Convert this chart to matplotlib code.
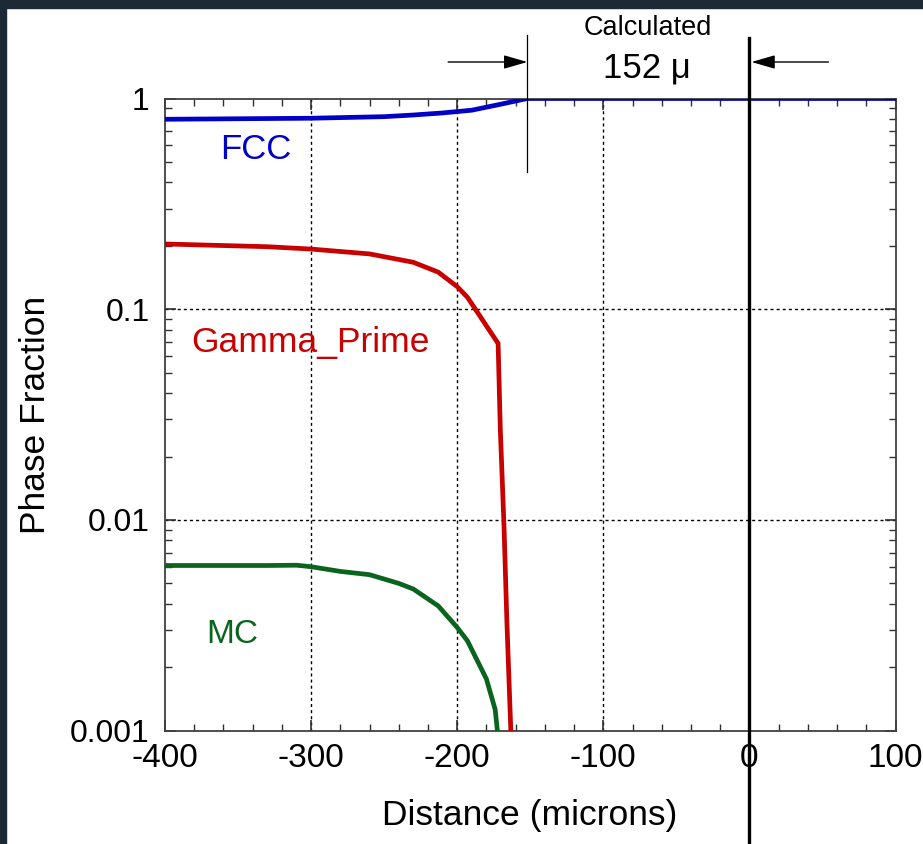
import matplotlib
matplotlib.use("Agg")
import matplotlib.pyplot as plt
from matplotlib.ticker import FixedLocator, LogLocator, NullFormatter, MultipleLocator
import matplotlib.patches as mpatches

plt.rcParams['font.family'] = ['Liberation Sans', 'DejaVu Sans']

# ---- data ----
fcc_x = [-400, -300, -250, -230, -210, -190, -170, -152, 100]
fcc_y = [0.797, 0.806, 0.82, 0.835, 0.854, 0.88, 0.94, 1.0, 1.0]

gp_x = [-400, -330, -300, -260, -230, -213, -200, -193, -172, -170.5, -168, -166, -163.3, -163]
gp_y = [0.204, 0.198, 0.193, 0.183, 0.167, 0.150, 0.128, 0.114, 0.0688, 0.027, 0.0095, 0.0033, 0.001, 0.0009]

mc_x = [-400, -330, -310, -300, -280, -260, -240, -230, -213, -200, -193, -180, -174, -172.5, -172.4]
mc_y = [0.00608, 0.00608, 0.0061, 0.0060, 0.0057, 0.0055, 0.0050, 0.0047, 0.00391, 0.00309, 0.00267, 0.00176, 0.00126, 0.001, 0.0009]

x_ticks = [-400, -300, -200, -100, 0, 100]
x_tick_labels = ['-400', '-300', '-200', '-100', '0', '100']
y_ticks = [0.001, 0.01, 0.1, 1]
y_tick_labels = ['0.001', '0.01', '0.1', '1']

series_labels = ['FCC', 'Gamma_Prime', 'MC']
colors = ['#0000c8', '#c80000', '#0a641e']

interface_x = -152
surface_x = 0

# ---- figure ----
W, H = 923, 844
fig = plt.figure(figsize=(W / 100, H / 100), dpi=100)
fig.patch.set_facecolor('white')

# dark frame bands
fig.add_artist(mpatches.Rectangle((0, 1 - 8 / H), 1, 8 / H, transform=fig.transFigure,
                                  color='#1d2935', zorder=0))
fig.add_artist(mpatches.Rectangle((0, 0), 6 / W, 1, transform=fig.transFigure,
                                  color='#1d2935', zorder=0))

left, right, top, bottom = 165, 895.5, 98.5, 730.7
ax = fig.add_axes([left / W, 1 - bottom / H, (right - left) / W, (bottom - top) / H])
ax.set_yscale('log')
ax.set_xlim(-400, 100)
ax.set_ylim(0.001, 1)

for xs, ys, c in zip([fcc_x, gp_x, mc_x], [fcc_y, gp_y, mc_y], colors):
    ax.plot(xs, ys, color=c, lw=3.4, solid_joinstyle='miter', zorder=3)

# grid
for gx in x_ticks[1:-1]:
    ax.axvline(gx, color='black', lw=1.0, ls=(0, (2.2, 2.2)), zorder=1)
for gy in y_ticks[1:-1]:
    ax.axhline(gy, color='black', lw=1.0, ls=(0, (2.2, 2.2)), zorder=1)

# ticks
ax.xaxis.set_major_locator(FixedLocator(x_ticks))
ax.set_xticklabels(x_tick_labels)
ax.xaxis.set_minor_locator(MultipleLocator(20))
ax.yaxis.set_major_locator(FixedLocator(y_ticks))
ax.set_yticklabels(y_tick_labels)
ax.yaxis.set_minor_locator(LogLocator(base=10, subs=range(2, 10)))
ax.yaxis.set_minor_formatter(NullFormatter())
ax.tick_params(which='both', direction='in', top=True, right=True, color='#303030')
ax.tick_params(which='major', length=8, width=1.2)
ax.tick_params(which='minor', length=5, width=1.0)
ax.tick_params(axis='x', which='major', labelsize=24, pad=9)
ax.tick_params(axis='y', which='major', labelsize=23, pad=11)
for s in ax.spines.values():
    s.set_color('#404040')
    s.set_linewidth(1.3)

# series labels
ax.text(-337.7, 0.570, series_labels[0], color=colors[0], fontsize=25, ha='center', va='center')
ax.text(-300.7, 0.0694, series_labels[1], color=colors[1], fontsize=25.5, ha='center', va='center')
ax.text(-354, 0.00287, series_labels[2], color=colors[2], fontsize=24, ha='center', va='center')

# axis labels
fig.text(530 / W, 1 - 816 / H, 'Distance (microns)', fontsize=25.5, ha='center', va='center')
fig.text(36 / W, 1 - 415 / H, 'Phase Fraction', fontsize=25.5, ha='center', va='center', rotation=90)

# annotation lines and arrows
trans = ax.get_xaxis_transform()
def yfrac(py):
    return (bottom - py) / (bottom - top)

ax.plot([interface_x, interface_x], [yfrac(35), yfrac(172)], transform=trans,
        color='black', lw=0.9, clip_on=False, zorder=5)
ax.plot([surface_x, surface_x], [yfrac(38), yfrac(H + 5)], transform=trans,
        color='black', lw=2.4, clip_on=False, zorder=5)

arrow_style = dict(arrowstyle='-|>,head_length=1.45,head_width=0.42', color='black', lw=1.0,
                   shrinkA=0, shrinkB=0)
ax.annotate('', xy=(interface_x, yfrac(62)), xytext=(-206.2, yfrac(62)),
            xycoords=trans, textcoords=trans, arrowprops=arrow_style, annotation_clip=False)
ax.annotate('', xy=(1.4, yfrac(62)), xytext=(54.1, yfrac(62)),
            xycoords=trans, textcoords=trans, arrowprops=arrow_style, annotation_clip=False)

ax.text(-69.2, yfrac(28), 'Calculated', transform=trans, fontsize=19.5, ha='center', va='center')
ax.text(-70.5, yfrac(68), '152 \u03bc', transform=trans, fontsize=25, ha='center', va='center')

fig.savefig('out.png', dpi=100, facecolor=fig.get_facecolor())
